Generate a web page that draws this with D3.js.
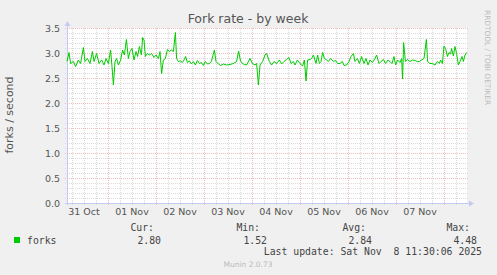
<!DOCTYPE html>
<html>
<head>
<meta charset="utf-8">
<script src="https://cdn.jsdelivr.net/npm/d3@7"></script>
<style>
body { margin: 0; background: #f0f0f0; }
svg { display: block; }
</style>
</head>
<body>
<svg id="chart" width="497" height="275"></svg>
<script>
// hours since the start of the window (Oct 31 03:30:06) and the fork rate
const sampleHours = [0,1.0,1.8,3.2,4.3,5.7,6.8,8.2,9,10.2,11.5,12.7,13.5,14.8,16,17.3,18.5,19.5,20.7,21.8,
    22.5,23.2,24,24.8,25.7,26.8,27.8,28.7,29.7,30.7,31.5,32.5,33.5,34.5,35.3,36.2,37.2,37.8,38.5,39.2,
    40.2,41.2,42.3,43.5,44.5,45.7,46.5,47.3,48.2,49.2,50.2,51.2,52.2,53.2,54.2,54.8,55.7,56.7,57.7,58.5,
    59.3,60.2,61.2,62.2,63.2,64.2,65.2,66.2,67.2,68.2,69.2,70.2,71.2,72.2,73.7,74.5,75.7,76.8,78.2,79.8,
    81.5,83.2,84.8,85.8,86.8,88.2,
    89.8,91.5,92.7,94,94.8,95.7,96.5,97.8,99,99.8,101.2,102.3,103.5,104.8,106.2,107.3,108.5,109.8,111,112,
    113.2,114,115.2,116.5,117.8,118.7,119.5,120.3,121.5,122.3,123.2,124.5,125.3,126.2,127,127.8,128.7,129.8,130.7,131.8,
    133.2,134.3,135.3,136.5,137.7,138.5,139.8,141,142,143.2,144,145.2,146.2,147.3,148.5,149.5,150.5,151.5,152.7,154,
    154.8,156,157,158.2,159.3,160.5,161.5,162.5,163.5,164.3,165.3,166.5,167.3,167.8,168.3,169.2,170.2,171.5,172.8,174,
    175.2,176.2,177.3,178.5,179.7,180.3,181.5,182.7,184,185.2,186.2,186.8,187.7,188.5,189.3,190.2,191,191.8,192.3,193.2,
    194,194.8,195.7,196.5,197.5,198.2,199,199.8];
const forkValues = [2.83,3.01,2.79,2.83,2.73,2.86,2.79,3.11,2.83,2.89,2.79,3.03,2.83,2.99,2.79,2.86,2.76,2.89,2.79,3.06,
    2.73,2.36,2.83,2.89,2.76,2.86,3.06,2.96,3.27,2.89,3.03,3.09,2.86,3.03,2.93,3.13,2.96,3.31,3.26,2.93,
    2.99,2.96,2.99,2.91,2.96,2.89,3.03,2.59,2.86,2.89,3.07,3.03,3.06,3.03,3.41,2.89,2.83,2.84,2.81,2.86,
    2.93,2.81,2.84,2.78,2.83,2.76,2.85,2.79,2.81,2.75,2.83,2.78,2.79,2.83,3.06,2.83,2.78,2.75,2.78,2.76,
    2.77,2.79,2.83,3.04,2.83,2.78,
    2.76,2.89,2.79,2.76,2.79,2.36,2.76,2.83,2.96,2.99,2.83,2.76,2.83,2.79,2.86,2.78,2.83,2.87,2.91,2.79,
    2.83,2.76,2.86,2.79,2.74,2.86,2.44,2.86,2.87,2.89,2.96,2.79,2.96,2.79,2.83,3.01,2.89,2.86,2.83,2.89,
    2.83,2.85,2.79,2.79,2.83,2.75,2.76,2.83,2.93,2.99,2.83,2.89,2.79,2.93,2.79,2.89,2.76,2.86,2.81,2.89,
    2.96,2.79,2.83,2.87,2.79,2.86,2.83,2.79,2.93,2.76,2.86,2.81,2.89,2.48,3.21,2.83,2.87,2.83,2.86,2.85,
    2.83,2.83,2.86,2.89,3.27,2.83,2.79,2.79,2.76,2.83,2.79,2.86,2.79,3.14,3.09,2.93,3.01,2.98,3.09,2.94,
    3.13,2.99,2.76,2.83,2.93,2.83,2.96,3.01];

const legendHeaders = ["Cur:", "Min:", "Avg:", "Max:"];
const legendValues = ["2.80", "1.52", "2.84", "4.48"];
const lastUpdate = "Last update: Sat Nov  8 11:30:06 2025";

const windowEnd = new Date(2025, 10, 8, 11, 30, 6);
const windowStart = new Date(windowEnd.getTime() - 200 * 3600e3);

const svg = d3.select("#chart");
const plot = { left: 67, right: 467, top: 28, bottom: 203 };

const x = d3.scaleTime().domain([windowStart, windowEnd]).range([plot.left, plot.right]);
const y = d3.scaleLinear().domain([0, 3.5]).range([plot.bottom, plot.top]);

const data = sampleHours.map((h, i) => ({
    t: new Date(windowStart.getTime() + h * 3600e3),
    v: forkValues[i]
}));

// plot background
svg.append("rect")
    .attr("x", plot.left).attr("y", plot.top)
    .attr("width", plot.right - plot.left).attr("height", plot.bottom - plot.top)
    .attr("fill", "#fff");

const minorColor = "#dadada";
const majorColor = "#eebcbc";

// minor grid: every 0.1 and every 6 hours
const majorY = y.ticks(7);
const minorY = y.ticks(35).filter(v => !majorY.some(m => Math.abs(m - v) < 1e-9));
const days = d3.timeDay.range(windowStart, windowEnd);
const minorX = d3.timeHour.every(6).range(windowStart, windowEnd)
    .filter(d => d.getHours() !== 0);

const grid = svg.append("g").attr("shape-rendering", "crispEdges");
grid.selectAll(".hminor").data(minorY).join("line")
    .attr("x1", plot.left - 2).attr("x2", plot.right + 1)
    .attr("y1", d => Math.round(y(d)) + 0.5).attr("y2", d => Math.round(y(d)) + 0.5)
    .attr("stroke", minorColor).attr("stroke-dasharray", "1,1");
grid.selectAll(".vminor").data(minorX).join("line")
    .attr("x1", d => Math.round(x(d)) + 0.5).attr("x2", d => Math.round(x(d)) + 0.5)
    .attr("y1", plot.top).attr("y2", plot.bottom + 2)
    .attr("stroke", minorColor).attr("stroke-dasharray", "1,1");
grid.selectAll(".hmajor").data(majorY.filter(v => v > 0)).join("line")
    .attr("x1", plot.left - 2).attr("x2", plot.right + 1)
    .attr("y1", d => Math.round(y(d)) + 0.5).attr("y2", d => Math.round(y(d)) + 0.5)
    .attr("stroke", majorColor).attr("stroke-dasharray", "1,1");
grid.selectAll(".vmajor").data(days).join("line")
    .attr("x1", d => Math.round(x(d)) + 0.5).attr("x2", d => Math.round(x(d)) + 0.5)
    .attr("y1", plot.top).attr("y2", plot.bottom + 2)
    .attr("stroke", majorColor).attr("stroke-dasharray", "1,1");

// axes with arrows
const axisColor = "#c4cbf3";
svg.append("line")
    .attr("x1", plot.left + 0.5).attr("x2", plot.left + 0.5)
    .attr("y1", plot.bottom + 2).attr("y2", plot.top - 4)
    .attr("stroke", axisColor);
svg.append("line")
    .attr("x1", plot.left - 2).attr("x2", plot.right + 3)
    .attr("y1", plot.bottom + 0.5).attr("y2", plot.bottom + 0.5)
    .attr("stroke", axisColor);
svg.append("path")
    .attr("d", `M${plot.left - 2.5},${plot.top - 2}L${plot.left + 0.5},${plot.top - 7}L${plot.left + 3.5},${plot.top - 2}Z`)
    .attr("fill", axisColor);
svg.append("path")
    .attr("d", `M${plot.right + 2},${plot.bottom - 2.5}L${plot.right + 7},${plot.bottom + 0.5}L${plot.right + 2},${plot.bottom + 3.5}Z`)
    .attr("fill", axisColor);

// the series
svg.append("path")
    .datum(data)
    .attr("fill", "none")
    .attr("stroke", "#00cc00")
    .attr("stroke-width", 1)
    .attr("stroke-linejoin", "round")
    .attr("d", d3.line().x(d => x(d.t)).y(d => y(d.v)));

// tick labels
const tickFont = "DejaVu Sans, sans-serif";
svg.append("g").selectAll("text").data(majorY).join("text")
    .attr("x", plot.left - 7).attr("y", d => y(d) + 3.5)
    .attr("text-anchor", "end")
    .attr("font-family", tickFont).attr("font-size", 9.5).attr("fill", "#555")
    .text(d3.format(".1f"));

const noons = days.map(d => d3.timeHour.offset(d, 12)).concat([new Date(2025, 9, 31, 12)])
    .filter(d => d > windowStart && d < windowEnd);
svg.append("g").selectAll("text").data(noons).join("text")
    .attr("x", d => x(d)).attr("y", plot.bottom + 12)
    .attr("text-anchor", "middle")
    .attr("font-family", tickFont).attr("font-size", 9.5).attr("fill", "#555")
    .text(d3.timeFormat("%d %b"));

// titles
svg.append("text")
    .attr("x", 248).attr("y", 23)
    .attr("text-anchor", "middle")
    .attr("font-family", tickFont).attr("font-size", 12.5).attr("fill", "#555")
    .text("Fork rate - by week");

svg.append("text")
    .attr("transform", "translate(13,115) rotate(-90)")
    .attr("text-anchor", "middle")
    .attr("font-family", tickFont).attr("font-size", 11).attr("fill", "#555")
    .text("forks / second");

svg.append("text")
    .attr("transform", "translate(485,10) rotate(90)")
    .attr("font-family", tickFont).attr("font-size", 7.4).attr("fill", "#bbb")
    .text("RRDTOOL / TOBI OETIKER");

// legend
const mono = "DejaVu Sans Mono, monospace";
const headerRight = [154, 260, 366, 470];
const valueRight = [161, 267, 372, 477];

svg.append("rect").attr("x", 14).attr("y", 237).attr("width", 6).attr("height", 6).attr("fill", "#00cc00");
svg.append("text").attr("x", 27).attr("y", 244)
    .attr("font-family", mono).attr("font-size", 9.8).attr("fill", "#444")
    .text("forks");

svg.append("g").selectAll("text").data(legendHeaders).join("text")
    .attr("x", (d, i) => headerRight[i]).attr("y", 231)
    .attr("text-anchor", "end")
    .attr("font-family", mono).attr("font-size", 9.8).attr("fill", "#444")
    .text(d => d);
svg.append("g").selectAll("text").data(legendValues).join("text")
    .attr("x", (d, i) => valueRight[i]).attr("y", 244)
    .attr("text-anchor", "end")
    .attr("font-family", mono).attr("font-size", 9.8).attr("fill", "#444")
    .text(d => d);

svg.append("text").attr("x", 482).attr("y", 255)
    .attr("text-anchor", "end")
    .attr("font-family", mono).attr("font-size", 9.8).attr("fill", "#444")
    .attr("xml:space", "preserve").style("white-space", "pre")
    .text(lastUpdate);

svg.append("text").attr("x", 248).attr("y", 267)
    .attr("text-anchor", "middle")
    .attr("font-family", tickFont).attr("font-size", 7.5).attr("fill", "#bbb")
    .text("Munin 2.0.73");
</script>
</body>
</html>
